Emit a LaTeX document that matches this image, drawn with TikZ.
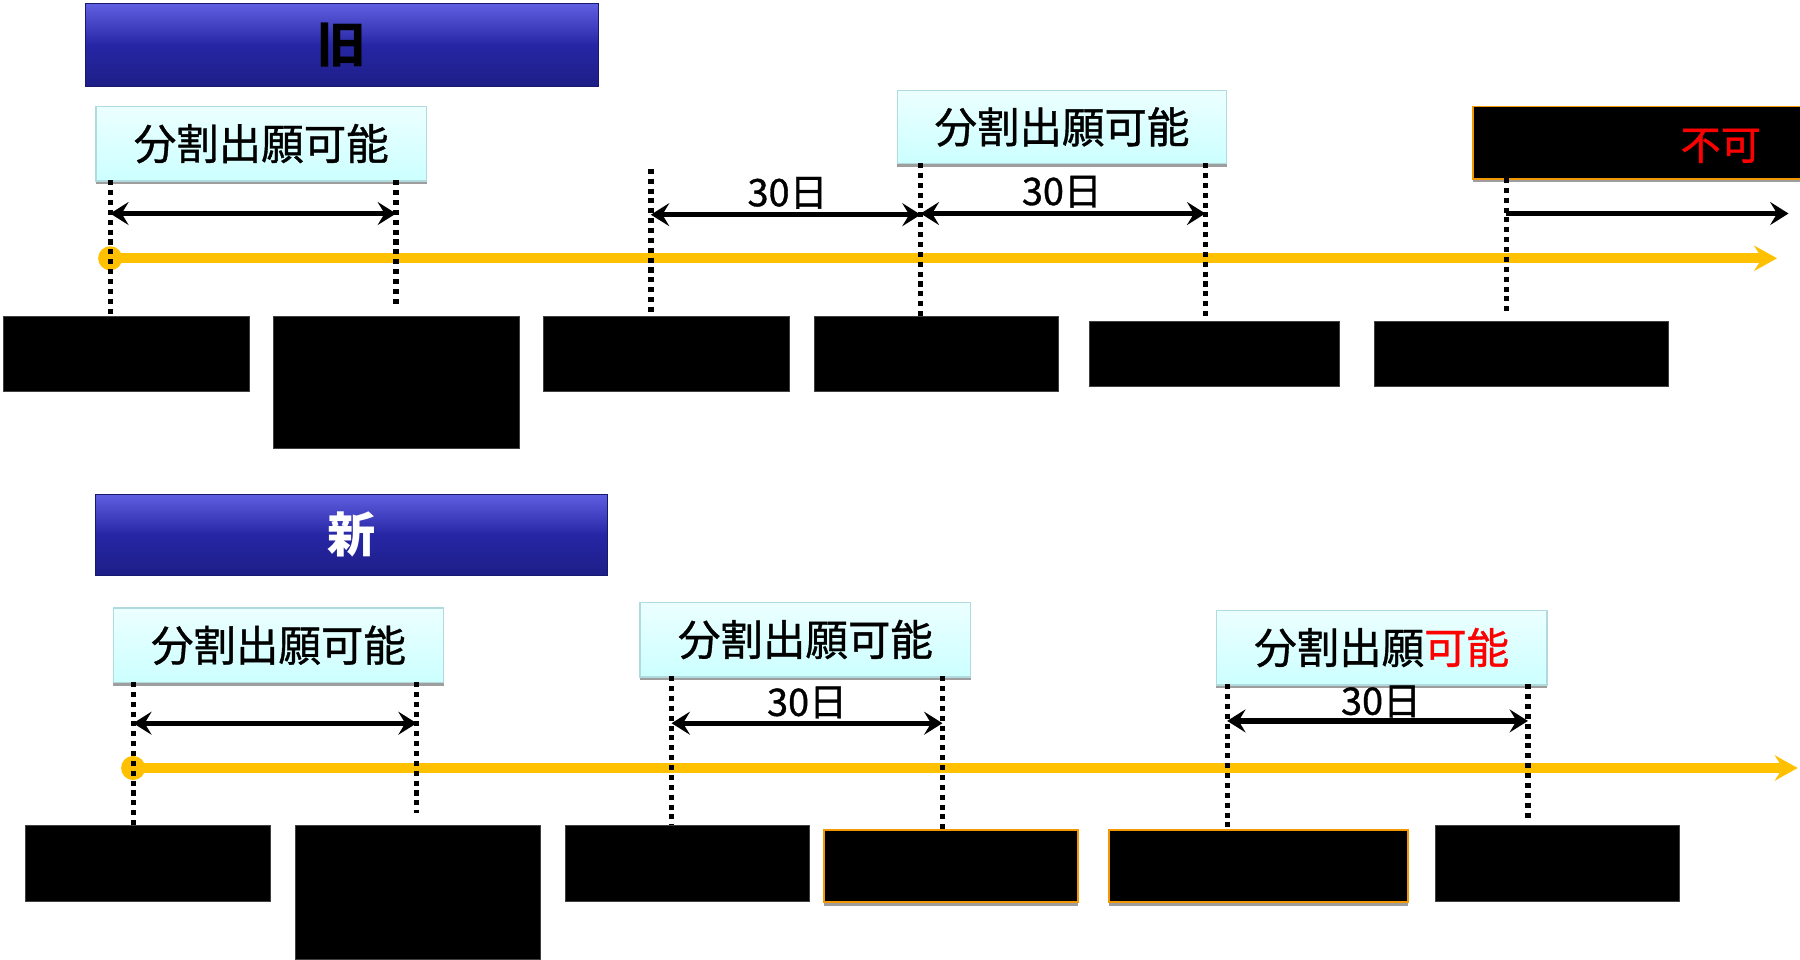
\documentclass[tikz,border=0pt]{standalone}
\usepackage{fontspec}
\newfontfamily\jp[FakeBold=0.9]{Noto Sans CJK JP}
\newfontfamily\jpb{Noto Sans CJK JP}
\usetikzlibrary{arrows.meta,shadows}
\definecolor{navy}{RGB}{38,38,165}
\definecolor{navytop}{RGB}{95,95,225}
\definecolor{navybot}{RGB}{30,30,135}
\definecolor{cyantop}{RGB}{236,255,255}
\definecolor{cyanbot}{RGB}{204,255,255}
\definecolor{cyanedge}{RGB}{176,218,222}
\definecolor{tl}{RGB}{255,192,0}
\definecolor{oedge}{RGB}{243,152,0}
\definecolor{redtxt}{RGB}{255,0,0}
\begin{document}
\begin{tikzpicture}[x={(1pt,0)},y={(0,-1pt)},
  banner/.style={rectangle,draw=navybot!80!black,line width=0.8pt,top color=navytop,bottom color=navybot,middle color=navy,anchor=north west,inner sep=0pt,font=\jpb\bfseries\fontsize{42}{46}\selectfont},
  cbox/.style={rectangle,draw=cyanedge,line width=1.2pt,top color=cyantop,bottom color=cyanbot,anchor=north west,inner sep=0pt,minimum width=288pt,minimum height=65pt,font=\jp\fontsize{37}{42}\selectfont,drop shadow={shadow xshift=0pt,shadow yshift=-3pt,fill=black!38,opacity=1}},
  bbox/.style={rectangle,fill=black,draw=black!75,line width=0.6pt,anchor=north west,inner sep=0pt},
  obox/.style={rectangle,fill=black,draw=oedge,line width=1.6pt,anchor=north west,inner sep=0pt,drop shadow={shadow xshift=0pt,shadow yshift=-3pt,fill=black!38,opacity=1}},
  dotline/.style={line width=4.6pt,dash pattern=on 4.4pt off 4.2pt},
  dim/.style={line width=4.6pt,{Stealth[length=16pt,width=20pt,inset=6pt]}-{Stealth[length=16pt,width=20pt,inset=6pt]}},
  onedim/.style={line width=4.6pt,-{Stealth[length=16pt,width=20pt,inset=6pt]}},
  tline/.style={draw=tl,line width=8.5pt,-{Stealth[length=20pt,width=22pt,inset=7pt]}},
  days/.style={font=\jp\fontsize{33}{36}\selectfont,inner sep=0pt}
]
\useasboundingbox (0,0) rectangle (1568,836);

% ===== upper (old) =====
\node[banner,minimum width=447pt,minimum height=72pt] (ban1) at (74,3) {旧};

\node[cbox] (c1) at (83,92) {分割出願可能};
\node[cbox,minimum width=287pt,minimum height=64pt] (c2) at (781,78) {分割出願可能};
\node[obox,minimum width=292pt,minimum height=63pt] (nb) at (1282,92) {};
\node[font=\jp\fontsize{35}{40}\selectfont,text=redtxt,inner sep=0pt] (fuka) at (1499,127) {不可};

\node[bbox,minimum width=214pt,minimum height=66pt] (b1) at (3,275) {};
\node[bbox,minimum width=214pt,minimum height=115pt] (b2) at (238,275) {};
\node[bbox,minimum width=214pt,minimum height=66pt] (b3) at (473,275) {};
\node[bbox,minimum width=213pt,minimum height=66pt] (b4) at (709,275) {};
\node[bbox,minimum width=217pt,minimum height=56pt] (b5) at (949,280) {};
\node[bbox,minimum width=256pt,minimum height=56pt] (b6) at (1197,280) {};

\coordinate (u1t) at (96,157);   \coordinate (u1b) at (96,275);
\coordinate (u2t) at (345,157);  \coordinate (u2b) at (345,265);
\coordinate (u3t) at (567,147);  \coordinate (u3b) at (567,275);
\coordinate (u4t) at (802,142);  \coordinate (u4b) at (802,275);
\coordinate (u5t) at (1050,142); \coordinate (u5b) at (1050,279);
\coordinate (u6t) at (1312,155); \coordinate (u6b) at (1312,275);

\coordinate (ua1) at (96,186);  \coordinate (ua2) at (345,186);
\coordinate (ua3) at (567,187); \coordinate (ua4) at (802,187);
\coordinate (ua5) at (802,186); \coordinate (ua6) at (1050,186);
\coordinate (ua7) at (1312,186); \coordinate (ua8) at (1558,186);

\coordinate (ut0) at (96,225); \coordinate (ut1) at (1548,225);
\draw[tline] (ut0) -- (ut1);
\fill[tl] (ut0) circle (10.5);

\draw[dotline] (u1t) -- (u1b);
\draw[dotline] (u2t) -- (u2b);
\draw[dotline] (u3t) -- (u3b);
\draw[dotline] (u4t) -- (u4b);
\draw[dotline] (u5t) -- (u5b);
\draw[dotline] (u6t) -- (u6b);

\draw[dim] (ua1) -- (ua2);
\draw[dim] (ua3) -- (ua4);
\draw[dim] (ua5) -- (ua6);
\draw[onedim] (ua7) -- (ua8);

\node[days] (d1) at (686,168) {30日};
\node[days] (d2) at (925,167) {30日};

% ===== lower (new) =====
\node[banner,minimum width=446pt,minimum height=71pt,text=white] (ban2) at (83,430) {新};

\node[cbox] (c3) at (98,529) {分割出願可能};
\node[cbox] (c4) at (557,524) {分割出願可能};
\node[cbox] (c5) at (1059,531) {分割出願\textcolor{redtxt}{可能}};

\node[bbox,minimum width=213pt,minimum height=66pt] (n1) at (22,719) {};
\node[bbox,minimum width=213pt,minimum height=116pt] (n2) at (257,719) {};
\node[bbox,minimum width=213pt,minimum height=66pt] (n3) at (492,719) {};
\node[obox,minimum width=221pt,minimum height=63pt] (n4) at (717,722) {};
\node[obox,minimum width=261pt,minimum height=63pt] (n5) at (965,722) {};
\node[bbox,minimum width=213pt,minimum height=66pt] (n6) at (1250,719) {};

\coordinate (l1t) at (116,594);  \coordinate (l1b) at (116,719);
\coordinate (l2t) at (363,594);  \coordinate (l2b) at (363,708);
\coordinate (l3t) at (585,589);  \coordinate (l3b) at (585,719);
\coordinate (l4t) at (821,589);  \coordinate (l4b) at (821,722);
\coordinate (l5t) at (1069,596); \coordinate (l5b) at (1069,722);
\coordinate (l6t) at (1331,596); \coordinate (l6b) at (1331,716);

\coordinate (la1) at (116,630);  \coordinate (la2) at (363,630);
\coordinate (la3) at (585,630);  \coordinate (la4) at (821,630);
\coordinate (la5) at (1069,628); \coordinate (la6) at (1331,628);

\coordinate (lt0) at (116,669); \coordinate (lt1) at (1566,669);
\draw[tline] (lt0) -- (lt1);
\fill[tl] (lt0) circle (10.5);

\draw[dotline] (l1t) -- (l1b);
\draw[dotline] (l2t) -- (l2b);
\draw[dotline] (l3t) -- (l3b);
\draw[dotline] (l4t) -- (l4b);
\draw[dotline] (l5t) -- (l5b);
\draw[dotline] (l6t) -- (l6b);

\draw[dim] (la1) -- (la2);
\draw[dim] (la3) -- (la4);
\draw[dim] (la5) -- (la6);

\node[days] (d3) at (703,612) {30日};
\node[days] (d4) at (1203,611) {30日};
\end{tikzpicture}
\end{document}
